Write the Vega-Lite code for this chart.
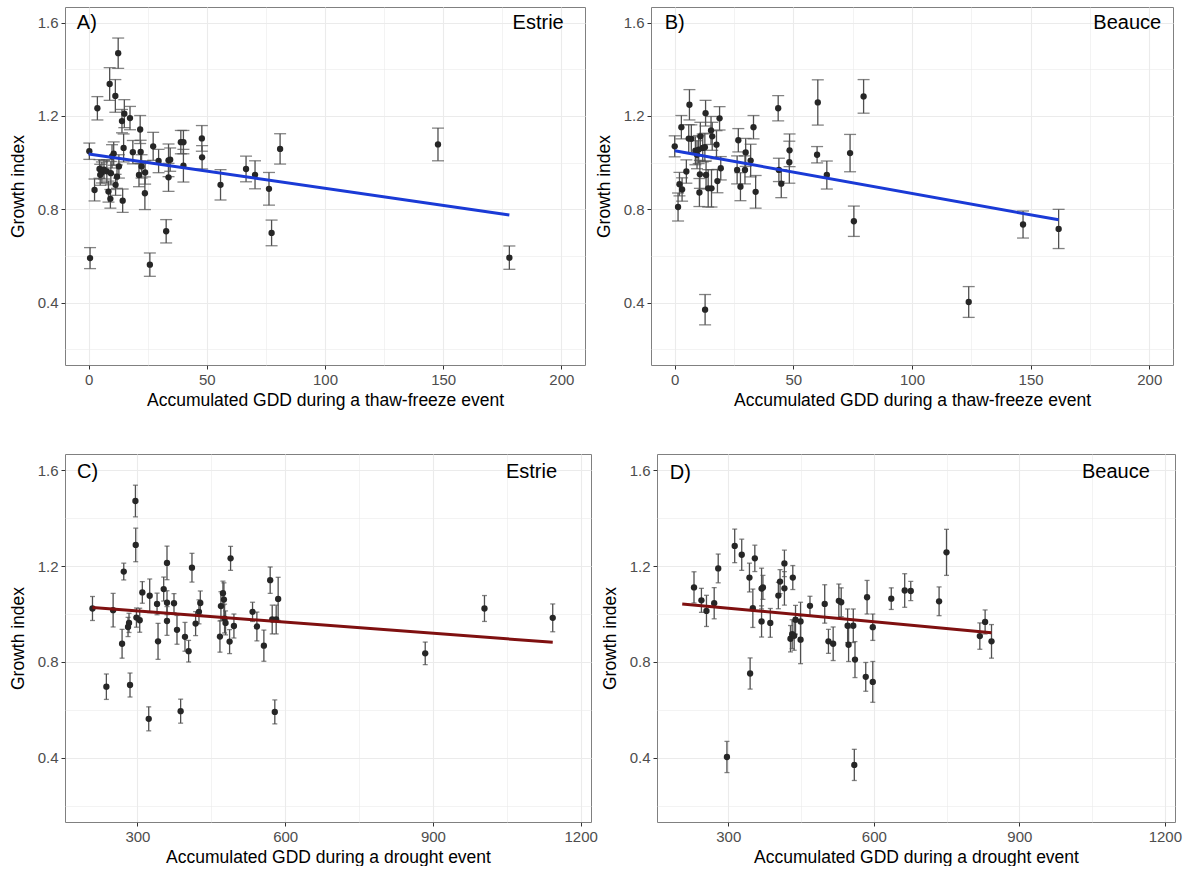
{
  "$schema": "https://vega.github.io/schema/vega-lite/v6.json",
  "padding": {"left": 8, "top": 6, "right": 5, "bottom": 0},
  "background": "white",
  "spacing": 44,
  "config": {
    "font": "Liberation Sans",
    "view": {"stroke": "#808080", "strokeWidth": 1},
    "axis": {
      "domain": false,
      "gridColor": "#ebebeb",
      "tickColor": "#333333",
      "tickSize": 4,
      "labelColor": "#4d4d4d",
      "labelFont": "Liberation Sans",
      "labelFontSize": 15,
      "titleFont": "Liberation Sans",
      "titleFontSize": 17.5,
      "titleFontWeight": "normal",
      "titleColor": "#000000",
      "labelPadding": 3,
      "titlePadding": 4,
      "labelOverlap": false
    },
    "axisY": {"titlePadding": 10}
  },
  "datasets": {
    "pts": [
      {"panel":"A","gdd":0.3,"gi":1.049,"lo":1.014,"hi":1.084},
      {"panel":"A","gdd":0.6,"gi":0.591,"lo":0.546,"hi":0.636},
      {"panel":"A","gdd":3.7,"gi":1.233,"lo":1.183,"hi":1.283},
      {"panel":"A","gdd":2.5,"gi":0.883,"lo":0.836,"hi":0.930},
      {"panel":"A","gdd":4.6,"gi":0.973,"lo":0.933,"hi":1.013},
      {"panel":"A","gdd":5.6,"gi":0.958,"lo":0.913,"hi":1.003},
      {"panel":"A","gdd":6.5,"gi":0.97,"lo":0.930,"hi":1.010},
      {"panel":"A","gdd":4.9,"gi":0.948,"lo":0.903,"hi":0.993},
      {"panel":"A","gdd":7.7,"gi":0.963,"lo":0.913,"hi":1.013},
      {"panel":"A","gdd":9.4,"gi":0.955,"lo":0.905,"hi":1.005},
      {"panel":"A","gdd":10.6,"gi":1.039,"lo":0.989,"hi":1.089},
      {"panel":"A","gdd":9.9,"gi":1.027,"lo":0.977,"hi":1.077},
      {"panel":"A","gdd":12.0,"gi":0.94,"lo":0.890,"hi":0.990},
      {"panel":"A","gdd":12.8,"gi":0.984,"lo":0.934,"hi":1.034},
      {"panel":"A","gdd":8.9,"gi":1.337,"lo":1.267,"hi":1.407},
      {"panel":"A","gdd":11.3,"gi":1.286,"lo":1.216,"hi":1.356},
      {"panel":"A","gdd":12.5,"gi":1.469,"lo":1.404,"hi":1.534},
      {"panel":"A","gdd":14.1,"gi":1.178,"lo":1.128,"hi":1.228},
      {"panel":"A","gdd":15.1,"gi":1.21,"lo":1.150,"hi":1.270},
      {"panel":"A","gdd":17.5,"gi":1.191,"lo":1.141,"hi":1.241},
      {"panel":"A","gdd":14.8,"gi":1.063,"lo":1.003,"hi":1.123},
      {"panel":"A","gdd":8.4,"gi":0.876,"lo":0.831,"hi":0.921},
      {"panel":"A","gdd":9.2,"gi":0.845,"lo":0.805,"hi":0.885},
      {"panel":"A","gdd":11.4,"gi":0.905,"lo":0.860,"hi":0.950},
      {"panel":"A","gdd":14.4,"gi":0.837,"lo":0.787,"hi":0.887},
      {"panel":"A","gdd":18.7,"gi":1.045,"lo":0.995,"hi":1.095},
      {"panel":"A","gdd":21.8,"gi":1.142,"lo":1.082,"hi":1.202},
      {"panel":"A","gdd":22.0,"gi":1.046,"lo":0.996,"hi":1.096},
      {"panel":"A","gdd":22.4,"gi":0.984,"lo":0.934,"hi":1.034},
      {"panel":"A","gdd":21.3,"gi":0.947,"lo":0.897,"hi":0.997},
      {"panel":"A","gdd":23.9,"gi":0.958,"lo":0.908,"hi":1.008},
      {"panel":"A","gdd":23.8,"gi":0.869,"lo":0.799,"hi":0.939},
      {"panel":"A","gdd":25.9,"gi":0.563,"lo":0.513,"hi":0.613},
      {"panel":"A","gdd":27.3,"gi":1.07,"lo":1.010,"hi":1.130},
      {"panel":"A","gdd":29.6,"gi":1.007,"lo":0.957,"hi":1.057},
      {"panel":"A","gdd":32.8,"gi":0.706,"lo":0.656,"hi":0.756},
      {"panel":"A","gdd":33.8,"gi":1.01,"lo":0.940,"hi":1.080},
      {"panel":"A","gdd":34.5,"gi":1.013,"lo":0.963,"hi":1.063},
      {"panel":"A","gdd":33.8,"gi":0.937,"lo":0.877,"hi":0.997},
      {"panel":"A","gdd":39.0,"gi":1.088,"lo":1.038,"hi":1.138},
      {"panel":"A","gdd":40.1,"gi":1.088,"lo":1.038,"hi":1.138},
      {"panel":"A","gdd":40.1,"gi":0.987,"lo":0.917,"hi":1.057},
      {"panel":"A","gdd":47.9,"gi":1.104,"lo":1.049,"hi":1.159},
      {"panel":"A","gdd":48.0,"gi":1.023,"lo":0.973,"hi":1.073},
      {"panel":"A","gdd":55.8,"gi":0.905,"lo":0.840,"hi":0.970},
      {"panel":"A","gdd":66.6,"gi":0.973,"lo":0.918,"hi":1.028},
      {"panel":"A","gdd":70.4,"gi":0.948,"lo":0.888,"hi":1.008},
      {"panel":"A","gdd":76.3,"gi":0.888,"lo":0.818,"hi":0.958},
      {"panel":"A","gdd":77.4,"gi":0.699,"lo":0.644,"hi":0.754},
      {"panel":"A","gdd":81.0,"gi":1.059,"lo":0.994,"hi":1.124},
      {"panel":"A","gdd":147.8,"gi":1.078,"lo":1.008,"hi":1.148},
      {"panel":"A","gdd":178.0,"gi":0.593,"lo":0.543,"hi":0.643},

      {"panel":"B","gdd":0,"gi":1.07,"lo":1.025,"hi":1.115},
      {"panel":"B","gdd":1.4,"gi":0.81,"lo":0.750,"hi":0.870},
      {"panel":"B","gdd":2.0,"gi":0.908,"lo":0.858,"hi":0.958},
      {"panel":"B","gdd":3.1,"gi":0.885,"lo":0.835,"hi":0.935},
      {"panel":"B","gdd":2.8,"gi":1.152,"lo":1.102,"hi":1.202},
      {"panel":"B","gdd":4.9,"gi":0.962,"lo":0.912,"hi":1.012},
      {"panel":"B","gdd":6.2,"gi":1.248,"lo":1.183,"hi":1.313},
      {"panel":"B","gdd":5.9,"gi":1.103,"lo":1.043,"hi":1.163},
      {"panel":"B","gdd":7.0,"gi":1.102,"lo":1.042,"hi":1.162},
      {"panel":"B","gdd":8.7,"gi":1.051,"lo":0.991,"hi":1.111},
      {"panel":"B","gdd":9.4,"gi":1.034,"lo":0.974,"hi":1.094},
      {"panel":"B","gdd":10.1,"gi":1.056,"lo":0.996,"hi":1.116},
      {"panel":"B","gdd":10.8,"gi":1.113,"lo":1.053,"hi":1.173},
      {"panel":"B","gdd":11.8,"gi":1.063,"lo":1.003,"hi":1.123},
      {"panel":"B","gdd":12.7,"gi":1.066,"lo":1.006,"hi":1.126},
      {"panel":"B","gdd":13.0,"gi":1.212,"lo":1.157,"hi":1.267},
      {"panel":"B","gdd":10.4,"gi":0.872,"lo":0.812,"hi":0.932},
      {"panel":"B","gdd":10.6,"gi":0.95,"lo":0.890,"hi":1.010},
      {"panel":"B","gdd":13.2,"gi":0.947,"lo":0.887,"hi":1.007},
      {"panel":"B","gdd":12.8,"gi":0.37,"lo":0.305,"hi":0.435},
      {"panel":"B","gdd":14.1,"gi":0.89,"lo":0.810,"hi":0.970},
      {"panel":"B","gdd":15.5,"gi":0.89,"lo":0.810,"hi":0.970},
      {"panel":"B","gdd":15.3,"gi":1.138,"lo":1.078,"hi":1.198},
      {"panel":"B","gdd":15.8,"gi":1.113,"lo":1.053,"hi":1.173},
      {"panel":"B","gdd":17.6,"gi":1.077,"lo":1.017,"hi":1.137},
      {"panel":"B","gdd":18.0,"gi":0.921,"lo":0.871,"hi":0.971},
      {"panel":"B","gdd":18.9,"gi":1.19,"lo":1.140,"hi":1.240},
      {"panel":"B","gdd":19.4,"gi":0.976,"lo":0.926,"hi":1.026},
      {"panel":"B","gdd":26.8,"gi":1.096,"lo":1.046,"hi":1.146},
      {"panel":"B","gdd":26.3,"gi":0.969,"lo":0.909,"hi":1.029},
      {"panel":"B","gdd":27.7,"gi":0.897,"lo":0.837,"hi":0.957},
      {"panel":"B","gdd":29.6,"gi":0.969,"lo":0.909,"hi":1.029},
      {"panel":"B","gdd":29.9,"gi":1.044,"lo":0.984,"hi":1.104},
      {"panel":"B","gdd":32.0,"gi":1.009,"lo":0.939,"hi":1.079},
      {"panel":"B","gdd":33.2,"gi":1.152,"lo":1.102,"hi":1.202},
      {"panel":"B","gdd":34.1,"gi":0.875,"lo":0.805,"hi":0.945},
      {"panel":"B","gdd":43.6,"gi":1.233,"lo":1.179,"hi":1.287},
      {"panel":"B","gdd":43.9,"gi":0.969,"lo":0.919,"hi":1.019},
      {"panel":"B","gdd":44.9,"gi":0.91,"lo":0.850,"hi":0.970},
      {"panel":"B","gdd":48.4,"gi":1.053,"lo":0.983,"hi":1.123},
      {"panel":"B","gdd":48.3,"gi":1.002,"lo":0.912,"hi":1.092},
      {"panel":"B","gdd":60.3,"gi":1.258,"lo":1.161,"hi":1.355},
      {"panel":"B","gdd":60.0,"gi":1.034,"lo":0.999,"hi":1.069},
      {"panel":"B","gdd":64.1,"gi":0.947,"lo":0.887,"hi":1.007},
      {"panel":"B","gdd":73.9,"gi":1.041,"lo":0.961,"hi":1.121},
      {"panel":"B","gdd":75.5,"gi":0.749,"lo":0.684,"hi":0.814},
      {"panel":"B","gdd":79.6,"gi":1.284,"lo":1.212,"hi":1.356},
      {"panel":"B","gdd":123.9,"gi":0.403,"lo":0.337,"hi":0.469},
      {"panel":"B","gdd":146.8,"gi":0.735,"lo":0.677,"hi":0.793},
      {"panel":"B","gdd":161.8,"gi":0.716,"lo":0.632,"hi":0.800},

      {"panel":"C","gdd":208.8,"gi":1.023,"lo":0.973,"hi":1.073},
      {"panel":"C","gdd":237,"gi":0.697,"lo":0.644,"hi":0.750},
      {"panel":"C","gdd":250.7,"gi":1.016,"lo":0.946,"hi":1.086},
      {"panel":"C","gdd":268.9,"gi":0.876,"lo":0.816,"hi":0.936},
      {"panel":"C","gdd":272.3,"gi":1.177,"lo":1.142,"hi":1.212},
      {"panel":"C","gdd":281,"gi":0.946,"lo":0.906,"hi":0.986},
      {"panel":"C","gdd":283,"gi":0.963,"lo":0.923,"hi":1.003},
      {"panel":"C","gdd":285,"gi":0.704,"lo":0.654,"hi":0.754},
      {"panel":"C","gdd":296,"gi":1.471,"lo":1.405,"hi":1.537},
      {"panel":"C","gdd":296.6,"gi":1.288,"lo":1.218,"hi":1.358},
      {"panel":"C","gdd":298,"gi":0.985,"lo":0.945,"hi":1.025},
      {"panel":"C","gdd":304.7,"gi":0.974,"lo":0.924,"hi":1.024},
      {"panel":"C","gdd":310,"gi":1.09,"lo":1.045,"hi":1.135},
      {"panel":"C","gdd":323,"gi":0.563,"lo":0.513,"hi":0.613},
      {"panel":"C","gdd":325,"gi":1.076,"lo":1.006,"hi":1.146},
      {"panel":"C","gdd":339.9,"gi":1.042,"lo":0.997,"hi":1.087},
      {"panel":"C","gdd":341.9,"gi":0.886,"lo":0.811,"hi":0.961},
      {"panel":"C","gdd":353.4,"gi":1.104,"lo":1.054,"hi":1.154},
      {"panel":"C","gdd":360.1,"gi":1.213,"lo":1.143,"hi":1.283},
      {"panel":"C","gdd":360.1,"gi":1.047,"lo":0.997,"hi":1.097},
      {"panel":"C","gdd":360.1,"gi":0.971,"lo":0.911,"hi":1.031},
      {"panel":"C","gdd":374.3,"gi":1.045,"lo":1.005,"hi":1.085},
      {"panel":"C","gdd":380.4,"gi":0.934,"lo":0.874,"hi":0.994},
      {"panel":"C","gdd":387.8,"gi":0.595,"lo":0.545,"hi":0.645},
      {"panel":"C","gdd":396.6,"gi":0.905,"lo":0.845,"hi":0.965},
      {"panel":"C","gdd":404,"gi":0.845,"lo":0.800,"hi":0.890},
      {"panel":"C","gdd":410.8,"gi":1.193,"lo":1.133,"hi":1.253},
      {"panel":"C","gdd":418.2,"gi":0.96,"lo":0.910,"hi":1.010},
      {"panel":"C","gdd":425,"gi":1.009,"lo":0.959,"hi":1.059},
      {"panel":"C","gdd":427.7,"gi":1.046,"lo":0.996,"hi":1.096},
      {"panel":"C","gdd":467.6,"gi":0.906,"lo":0.841,"hi":0.971},
      {"panel":"C","gdd":469.6,"gi":1.033,"lo":0.973,"hi":1.093},
      {"panel":"C","gdd":473.7,"gi":1.087,"lo":1.037,"hi":1.137},
      {"panel":"C","gdd":475.7,"gi":1.06,"lo":0.990,"hi":1.130},
      {"panel":"C","gdd":477,"gi":0.981,"lo":0.921,"hi":1.041},
      {"panel":"C","gdd":479,"gi":0.963,"lo":0.913,"hi":1.013},
      {"panel":"C","gdd":487.2,"gi":0.885,"lo":0.835,"hi":0.935},
      {"panel":"C","gdd":489.2,"gi":1.232,"lo":1.182,"hi":1.282},
      {"panel":"C","gdd":496,"gi":0.95,"lo":0.900,"hi":1.000},
      {"panel":"C","gdd":533.8,"gi":1.009,"lo":0.969,"hi":1.049},
      {"panel":"C","gdd":542.6,"gi":0.948,"lo":0.888,"hi":1.008},
      {"panel":"C","gdd":556.8,"gi":0.868,"lo":0.803,"hi":0.933},
      {"panel":"C","gdd":569.6,"gi":1.141,"lo":1.086,"hi":1.196},
      {"panel":"C","gdd":573.7,"gi":0.977,"lo":0.917,"hi":1.037},
      {"panel":"C","gdd":579,"gi":0.592,"lo":0.542,"hi":0.642},
      {"panel":"C","gdd":581.8,"gi":0.977,"lo":0.917,"hi":1.037},
      {"panel":"C","gdd":585.8,"gi":1.063,"lo":0.973,"hi":1.153},
      {"panel":"C","gdd":884.4,"gi":0.836,"lo":0.789,"hi":0.883},
      {"panel":"C","gdd":1004.7,"gi":1.023,"lo":0.969,"hi":1.077},
      {"panel":"C","gdd":1143.3,"gi":0.984,"lo":0.926,"hi":1.042},

      {"panel":"D","gdd":229.3,"gi":1.111,"lo":1.046,"hi":1.176},
      {"panel":"D","gdd":244.6,"gi":1.057,"lo":1.007,"hi":1.107},
      {"panel":"D","gdd":255,"gi":1.013,"lo":0.948,"hi":1.078},
      {"panel":"D","gdd":270.9,"gi":1.045,"lo":0.980,"hi":1.110},
      {"panel":"D","gdd":279.2,"gi":1.19,"lo":1.130,"hi":1.250},
      {"panel":"D","gdd":297.2,"gi":0.404,"lo":0.339,"hi":0.469},
      {"panel":"D","gdd":313.2,"gi":1.284,"lo":1.214,"hi":1.354},
      {"panel":"D","gdd":327.7,"gi":1.247,"lo":1.182,"hi":1.312},
      {"panel":"D","gdd":343.6,"gi":1.152,"lo":1.092,"hi":1.212},
      {"panel":"D","gdd":345,"gi":0.752,"lo":0.687,"hi":0.817},
      {"panel":"D","gdd":350.6,"gi":1.024,"lo":0.944,"hi":1.104},
      {"panel":"D","gdd":354.7,"gi":1.232,"lo":1.177,"hi":1.287},
      {"panel":"D","gdd":368.6,"gi":1.106,"lo":1.021,"hi":1.191},
      {"panel":"D","gdd":371.4,"gi":1.111,"lo":1.061,"hi":1.161},
      {"panel":"D","gdd":368.6,"gi":0.969,"lo":0.904,"hi":1.034},
      {"panel":"D","gdd":386.6,"gi":0.963,"lo":0.903,"hi":1.023},
      {"panel":"D","gdd":403.2,"gi":1.077,"lo":1.022,"hi":1.132},
      {"panel":"D","gdd":406.7,"gi":1.135,"lo":1.085,"hi":1.185},
      {"panel":"D","gdd":415.7,"gi":1.107,"lo":1.037,"hi":1.177},
      {"panel":"D","gdd":415.7,"gi":1.211,"lo":1.156,"hi":1.266},
      {"panel":"D","gdd":433,"gi":1.152,"lo":1.102,"hi":1.202},
      {"panel":"D","gdd":428.2,"gi":0.897,"lo":0.842,"hi":0.952},
      {"panel":"D","gdd":431.7,"gi":0.916,"lo":0.856,"hi":0.976},
      {"panel":"D","gdd":435.8,"gi":0.909,"lo":0.849,"hi":0.969},
      {"panel":"D","gdd":438.6,"gi":0.976,"lo":0.916,"hi":1.036},
      {"panel":"D","gdd":449,"gi":0.969,"lo":0.889,"hi":1.049},
      {"panel":"D","gdd":449,"gi":0.893,"lo":0.793,"hi":0.993},
      {"panel":"D","gdd":468.4,"gi":1.034,"lo":0.994,"hi":1.074},
      {"panel":"D","gdd":498.8,"gi":1.042,"lo":0.962,"hi":1.122},
      {"panel":"D","gdd":506.5,"gi":0.886,"lo":0.836,"hi":0.936},
      {"panel":"D","gdd":516.2,"gi":0.876,"lo":0.806,"hi":0.946},
      {"panel":"D","gdd":527.9,"gi":1.055,"lo":0.985,"hi":1.125},
      {"panel":"D","gdd":532.8,"gi":1.049,"lo":0.989,"hi":1.109},
      {"panel":"D","gdd":546,"gi":0.951,"lo":0.881,"hi":1.021},
      {"panel":"D","gdd":548,"gi":0.872,"lo":0.802,"hi":0.942},
      {"panel":"D","gdd":557.7,"gi":0.951,"lo":0.881,"hi":1.021},
      {"panel":"D","gdd":559.8,"gi":0.371,"lo":0.306,"hi":0.436},
      {"panel":"D","gdd":561.2,"gi":0.81,"lo":0.735,"hi":0.885},
      {"panel":"D","gdd":583.4,"gi":0.738,"lo":0.678,"hi":0.798},
      {"panel":"D","gdd":586.1,"gi":1.07,"lo":1.000,"hi":1.140},
      {"panel":"D","gdd":597.9,"gi":0.945,"lo":0.890,"hi":1.000},
      {"panel":"D","gdd":597.9,"gi":0.717,"lo":0.632,"hi":0.802},
      {"panel":"D","gdd":636,"gi":1.064,"lo":1.019,"hi":1.109},
      {"panel":"D","gdd":663.7,"gi":1.098,"lo":1.028,"hi":1.168},
      {"panel":"D","gdd":676.2,"gi":1.096,"lo":1.056,"hi":1.136},
      {"panel":"D","gdd":734.6,"gi":1.053,"lo":0.993,"hi":1.113},
      {"panel":"D","gdd":749.9,"gi":1.257,"lo":1.161,"hi":1.353},
      {"panel":"D","gdd":818.6,"gi":0.908,"lo":0.853,"hi":0.963},
      {"panel":"D","gdd":829.5,"gi":0.967,"lo":0.917,"hi":1.017},
      {"panel":"D","gdd":842.7,"gi":0.886,"lo":0.816,"hi":0.956}
    ],
    "fit": [
      {"panel":"A","gdd":0,"gi":1.037},
      {"panel":"A","gdd":178,"gi":0.776},
      {"panel":"B","gdd":0,"gi":1.051},
      {"panel":"B","gdd":161.8,"gi":0.755},
      {"panel":"C","gdd":208.8,"gi":1.027},
      {"panel":"C","gdd":1143.3,"gi":0.882},
      {"panel":"D","gdd":205,"gi":1.042},
      {"panel":"D","gdd":842.7,"gi":0.922}
    ]
  },
  "vconcat": [
    {
      "spacing": 8,
      "hconcat": [
        {
          "width": 520, "height": 358,
          "layer": [
            {
              "data": {"name": "pts"},
              "transform": [{"filter": "datum.panel === 'A'"}],
              "mark": {"type": "errorbar", "ticks": true, "size": 12, "thickness": 1.3, "color": "#505050"},
              "encoding": {
                "x": {"field": "gdd", "type": "quantitative",
                  "scale": {"domain": [-10, 210], "nice": false, "zero": false},
                  "axis": {"title": "Accumulated GDD during a thaw-freeze event", "values": [0,25,50,75,100,125,150,175,200], "format": "d",
                    "labelExpr": "datum.value % 50 === 0 ? datum.label : ''",
                    "tickOpacity": {"condition": {"test": "datum.value % 50 === 0", "value": 1}, "value": 0},
                    "gridWidth": {"condition": {"test": "datum.value % 50 === 0", "value": 1.1}, "value": 0.6}}},
                "y": {"field": "lo", "type": "quantitative",
                  "scale": {"domain": [0.133, 1.667], "nice": false, "zero": false},
                  "axis": {"title": "Growth index", "values": [0.2,0.4,0.6,0.8,1.0,1.2,1.4,1.6], "format": ".1f",
                    "labelExpr": "abs(datum.value*2.5 - round(datum.value*2.5)) < 0.01 ? datum.label : ''",
                    "tickOpacity": {"condition": {"test": "abs(datum.value*2.5 - round(datum.value*2.5)) < 0.01", "value": 1}, "value": 0},
                    "gridWidth": {"condition": {"test": "abs(datum.value*2.5 - round(datum.value*2.5)) < 0.01", "value": 1.1}, "value": 0.6}}},
                "y2": {"field": "hi"}
              }
            },
            {
              "data": {"name": "pts"},
              "transform": [{"filter": "datum.panel === 'A'"}],
              "mark": {"type": "point", "filled": true, "size": 40, "color": "#262626", "opacity": 1},
              "encoding": {"x": {"field": "gdd", "type": "quantitative"}, "y": {"field": "gi", "type": "quantitative"}}
            },
            {
              "data": {"name": "fit"},
              "transform": [{"filter": "datum.panel === 'A'"}],
              "mark": {"type": "line", "color": "#1a3ad6", "strokeWidth": 3},
              "encoding": {"x": {"field": "gdd", "type": "quantitative"}, "y": {"field": "gi", "type": "quantitative"}}
            },
            {
              "data": {"values": [{}]},
              "mark": {"type": "text", "align": "left", "baseline": "middle", "fontSize": 20, "font": "Liberation Sans", "color": "#000000"},
              "encoding": {"x": {"datum": -5}, "y": {"datum": 1.6}, "text": {"value": "A)"}}
            },
            {
              "data": {"values": [{}]},
              "mark": {"type": "text", "align": "right", "baseline": "middle", "fontSize": 20, "font": "Liberation Sans", "color": "#000000"},
              "encoding": {"x": {"datum": 201}, "y": {"datum": 1.6}, "text": {"value": "Estrie"}}
            }
          ]
        },
        {
          "width": 522, "height": 358,
          "layer": [
            {
              "data": {"name": "pts"},
              "transform": [{"filter": "datum.panel === 'B'"}],
              "mark": {"type": "errorbar", "ticks": true, "size": 12, "thickness": 1.3, "color": "#505050"},
              "encoding": {
                "x": {"field": "gdd", "type": "quantitative",
                  "scale": {"domain": [-10, 210], "nice": false, "zero": false},
                  "axis": {"title": "Accumulated GDD during a thaw-freeze event", "values": [0,25,50,75,100,125,150,175,200], "format": "d",
                    "labelExpr": "datum.value % 50 === 0 ? datum.label : ''",
                    "tickOpacity": {"condition": {"test": "datum.value % 50 === 0", "value": 1}, "value": 0},
                    "gridWidth": {"condition": {"test": "datum.value % 50 === 0", "value": 1.1}, "value": 0.6}}},
                "y": {"field": "lo", "type": "quantitative",
                  "scale": {"domain": [0.133, 1.667], "nice": false, "zero": false},
                  "axis": {"title": "Growth index", "values": [0.2,0.4,0.6,0.8,1.0,1.2,1.4,1.6], "format": ".1f",
                    "labelExpr": "abs(datum.value*2.5 - round(datum.value*2.5)) < 0.01 ? datum.label : ''",
                    "tickOpacity": {"condition": {"test": "abs(datum.value*2.5 - round(datum.value*2.5)) < 0.01", "value": 1}, "value": 0},
                    "gridWidth": {"condition": {"test": "abs(datum.value*2.5 - round(datum.value*2.5)) < 0.01", "value": 1.1}, "value": 0.6}}},
                "y2": {"field": "hi"}
              }
            },
            {
              "data": {"name": "pts"},
              "transform": [{"filter": "datum.panel === 'B'"}],
              "mark": {"type": "point", "filled": true, "size": 40, "color": "#262626", "opacity": 1},
              "encoding": {"x": {"field": "gdd", "type": "quantitative"}, "y": {"field": "gi", "type": "quantitative"}}
            },
            {
              "data": {"name": "fit"},
              "transform": [{"filter": "datum.panel === 'B'"}],
              "mark": {"type": "line", "color": "#1a3ad6", "strokeWidth": 3},
              "encoding": {"x": {"field": "gdd", "type": "quantitative"}, "y": {"field": "gi", "type": "quantitative"}}
            },
            {
              "data": {"values": [{}]},
              "mark": {"type": "text", "align": "left", "baseline": "middle", "fontSize": 20, "font": "Liberation Sans", "color": "#000000"},
              "encoding": {"x": {"datum": -4.2}, "y": {"datum": 1.597}, "text": {"value": "B)"}}
            },
            {
              "data": {"values": [{}]},
              "mark": {"type": "text", "align": "right", "baseline": "middle", "fontSize": 20, "font": "Liberation Sans", "color": "#000000"},
              "encoding": {"x": {"datum": 205}, "y": {"datum": 1.597}, "text": {"value": "Beauce"}}
            }
          ]
        }
      ]
    },
    {
      "spacing": 2,
      "hconcat": [
        {
          "width": 526, "height": 368,
          "layer": [
            {
              "data": {"name": "pts"},
              "transform": [{"filter": "datum.panel === 'C'"}],
              "mark": {"type": "errorbar", "ticks": true, "size": 5, "thickness": 1.3, "color": "#505050"},
              "encoding": {
                "x": {"field": "gdd", "type": "quantitative",
                  "scale": {"domain": [153, 1221], "nice": false, "zero": false},
                  "axis": {"title": "Accumulated GDD during a drought event", "values": [300,450,600,750,900,1050,1200], "format": "d",
                    "labelExpr": "datum.value % 300 === 0 ? datum.label : ''",
                    "tickOpacity": {"condition": {"test": "datum.value % 300 === 0", "value": 1}, "value": 0},
                    "gridWidth": {"condition": {"test": "datum.value % 300 === 0", "value": 1.1}, "value": 0.6}}},
                "y": {"field": "lo", "type": "quantitative",
                  "scale": {"domain": [0.133, 1.667], "nice": false, "zero": false},
                  "axis": {"title": "Growth index", "values": [0.2,0.4,0.6,0.8,1.0,1.2,1.4,1.6], "format": ".1f",
                    "labelExpr": "abs(datum.value*2.5 - round(datum.value*2.5)) < 0.01 ? datum.label : ''",
                    "tickOpacity": {"condition": {"test": "abs(datum.value*2.5 - round(datum.value*2.5)) < 0.01", "value": 1}, "value": 0},
                    "gridWidth": {"condition": {"test": "abs(datum.value*2.5 - round(datum.value*2.5)) < 0.01", "value": 1.1}, "value": 0.6}}},
                "y2": {"field": "hi"}
              }
            },
            {
              "data": {"name": "pts"},
              "transform": [{"filter": "datum.panel === 'C'"}],
              "mark": {"type": "point", "filled": true, "size": 40, "color": "#262626", "opacity": 1},
              "encoding": {"x": {"field": "gdd", "type": "quantitative"}, "y": {"field": "gi", "type": "quantitative"}}
            },
            {
              "data": {"name": "fit"},
              "transform": [{"filter": "datum.panel === 'C'"}],
              "mark": {"type": "line", "color": "#7f1010", "strokeWidth": 3},
              "encoding": {"x": {"field": "gdd", "type": "quantitative"}, "y": {"field": "gi", "type": "quantitative"}}
            },
            {
              "data": {"values": [{}]},
              "mark": {"type": "text", "align": "left", "baseline": "middle", "fontSize": 20, "font": "Liberation Sans", "color": "#000000"},
              "encoding": {"x": {"datum": 177.6}, "y": {"datum": 1.59}, "text": {"value": "C)"}}
            },
            {
              "data": {"values": [{}]},
              "mark": {"type": "text", "align": "right", "baseline": "middle", "fontSize": 20, "font": "Liberation Sans", "color": "#000000"},
              "encoding": {"x": {"datum": 1152}, "y": {"datum": 1.594}, "text": {"value": "Estrie"}}
            }
          ]
        },
        {
          "width": 518, "height": 368,
          "layer": [
            {
              "data": {"name": "pts"},
              "transform": [{"filter": "datum.panel === 'D'"}],
              "mark": {"type": "errorbar", "ticks": true, "size": 5, "thickness": 1.3, "color": "#505050"},
              "encoding": {
                "x": {"field": "gdd", "type": "quantitative",
                  "scale": {"domain": [153, 1221], "nice": false, "zero": false},
                  "axis": {"title": "Accumulated GDD during a drought event", "values": [300,450,600,750,900,1050,1200], "format": "d",
                    "labelExpr": "datum.value % 300 === 0 ? datum.label : ''",
                    "tickOpacity": {"condition": {"test": "datum.value % 300 === 0", "value": 1}, "value": 0},
                    "gridWidth": {"condition": {"test": "datum.value % 300 === 0", "value": 1.1}, "value": 0.6}}},
                "y": {"field": "lo", "type": "quantitative",
                  "scale": {"domain": [0.133, 1.667], "nice": false, "zero": false},
                  "axis": {"title": "Growth index", "values": [0.2,0.4,0.6,0.8,1.0,1.2,1.4,1.6], "format": ".1f",
                    "labelExpr": "abs(datum.value*2.5 - round(datum.value*2.5)) < 0.01 ? datum.label : ''",
                    "tickOpacity": {"condition": {"test": "abs(datum.value*2.5 - round(datum.value*2.5)) < 0.01", "value": 1}, "value": 0},
                    "gridWidth": {"condition": {"test": "abs(datum.value*2.5 - round(datum.value*2.5)) < 0.01", "value": 1.1}, "value": 0.6}}},
                "y2": {"field": "hi"}
              }
            },
            {
              "data": {"name": "pts"},
              "transform": [{"filter": "datum.panel === 'D'"}],
              "mark": {"type": "point", "filled": true, "size": 40, "color": "#262626", "opacity": 1},
              "encoding": {"x": {"field": "gdd", "type": "quantitative"}, "y": {"field": "gi", "type": "quantitative"}}
            },
            {
              "data": {"name": "fit"},
              "transform": [{"filter": "datum.panel === 'D'"}],
              "mark": {"type": "line", "color": "#7f1010", "strokeWidth": 3},
              "encoding": {"x": {"field": "gdd", "type": "quantitative"}, "y": {"field": "gi", "type": "quantitative"}}
            },
            {
              "data": {"values": [{}]},
              "mark": {"type": "text", "align": "left", "baseline": "middle", "fontSize": 20, "font": "Liberation Sans", "color": "#000000"},
              "encoding": {"x": {"datum": 179.4}, "y": {"datum": 1.586}, "text": {"value": "D)"}}
            },
            {
              "data": {"values": [{}]},
              "mark": {"type": "text", "align": "right", "baseline": "middle", "fontSize": 20, "font": "Liberation Sans", "color": "#000000"},
              "encoding": {"x": {"datum": 1169}, "y": {"datum": 1.593}, "text": {"value": "Beauce"}}
            }
          ]
        }
      ]
    }
  ]
}
